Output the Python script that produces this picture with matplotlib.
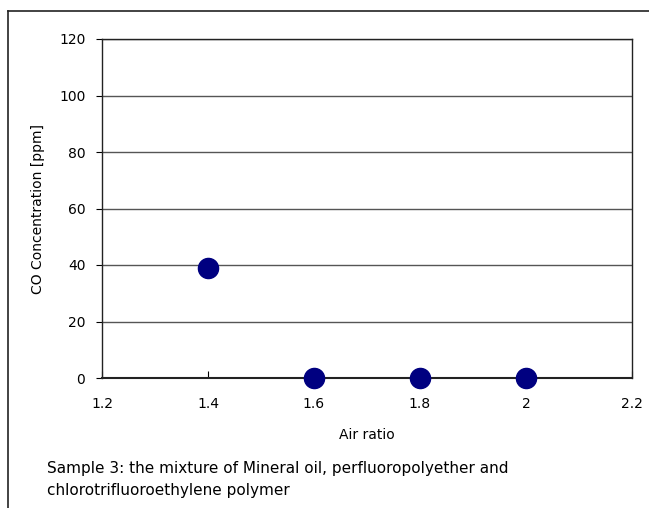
import matplotlib
matplotlib.use("Agg")
import matplotlib.pyplot as plt
from matplotlib.lines import Line2D

air_ratio = [1.4, 1.6, 1.8, 2.0]
co_ppm = [39, 0, 0, 0]
x_ticks = [1.2, 1.4, 1.6, 1.8, 2.0, 2.2]
x_tick_labels = ["1.2", "1.4", "1.6", "1.8", "2", "2.2"]
y_ticks = [0, 20, 40, 60, 80, 100, 120]

plt.rcParams['font.family'] = ['DejaVu Sans']

W, H = 649, 508
fig = plt.figure(figsize=(W/100, H/100), dpi=100)
ax = fig.add_axes([102/W, 1-378/H, (632-102)/W, (378-39)/H])

ax.scatter(air_ratio, co_ppm, s=14.5**2, color='#000080', zorder=3, clip_on=False)
ax.set_xlim(1.2, 2.2)
ax.set_ylim(0, 120)
ax.set_xticks(x_ticks)
ax.set_xticklabels(x_tick_labels)
ax.set_yticks(y_ticks)
ax.tick_params(axis='x', direction='in', length=5, labelsize=10, pad=14, color='black')
ax.tick_params(axis='y', direction='out', length=4, labelsize=10, pad=8)
ax.grid(axis='y', color='#555555', linewidth=1)
ax.set_axisbelow(True)
for s in ax.spines.values():
    s.set_color('#222222')
    s.set_linewidth(1)
ax.spines['bottom'].set_linewidth(1.5)

ax.set_ylabel("CO Concentration [ppm]", fontsize=10, labelpad=10)
fig.text(367/W, 1-435/H, "Air ratio", ha='center', va='center', fontsize=10)
fig.text(47/W, 1-468/H, "Sample 3: the mixture of Mineral oil, perfluoropolyether and", ha='left', va='center', fontsize=11)
fig.text(47/W, 1-490/H, "chlorotrifluoroethylene polymer", ha='left', va='center', fontsize=11)

# outer frame (left and top edges visible)
fig.add_artist(Line2D([7.5/W, 7.5/W], [0, 1-10.5/H], transform=fig.transFigure, color='#222222', linewidth=1.2))
fig.add_artist(Line2D([7.5/W, 1], [1-10.5/H, 1-10.5/H], transform=fig.transFigure, color='#222222', linewidth=1.2))

fig.savefig("out.png", dpi=100)
